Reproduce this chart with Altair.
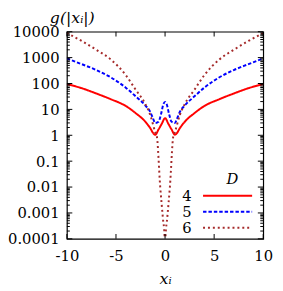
import altair as alt
import pandas as pd

# ---- data ----
D_labels = ["4", "5", "6"]
colors = ["#ff0000", "#0000ff", "#a52a2a"]
dashes = [[1, 0], [3.5, 2], [2, 3]]

x_red = [-10, -8.5, -7, -5.5, -4, -3, -2, -1.5, -1.2, -1.0, -0.67, -0.33, 0,
         0.33, 0.67, 1.0, 1.2, 1.5, 2, 3, 4, 5.5, 7, 8.5, 10]
g_red = [95, 66, 41, 24.5, 13.5, 7.2, 3.3, 1.86, 1.2, 1.05, 1.66, 2.8, 4.6,
         2.8, 1.66, 1.05, 1.2, 1.86, 3.3, 7.2, 13.5, 24.5, 41, 66, 95]

x_blue = [-10, -8.5, -7, -5.5, -4, -3, -2, -1.5, -1.2, -1.0, -0.67, -0.4, -0.17, 0,
          0.17, 0.4, 0.67, 1.0, 1.2, 1.5, 2, 3, 4, 5.5, 7, 8.5, 10]
g_blue = [930, 560, 330, 170, 69, 32, 14, 7.9, 4.2, 2.95, 3.3, 6.8, 15.8, 19.5,
          15.8, 6.8, 3.3, 2.95, 4.2, 7.9, 14, 32, 69, 170, 330, 560, 930]

x_brown = [-10, -8.5, -7, -5.5, -4, -3, -2, -1.5, -1.0, -0.83, -0.5, -0.22, -0.05, 0,
           0.05, 0.22, 0.5, 0.83, 1.0, 1.5, 2, 3, 4, 5.5, 7, 8.5, 10]
g_brown = [8900, 4400, 2000, 830, 210, 58, 15.8, 6.0, 1.32, 0.87, 0.011, 0.00063, 0.000126, 0.00001,
           0.000126, 0.00063, 0.011, 0.87, 1.32, 6.0, 15.8, 58, 210, 830, 2000, 4400, 8900]

x_ticks = [-10, -5, 0, 5, 10]
y_major = [0.0001, 0.001, 0.01, 0.1, 1, 10, 100, 1000, 10000]
y_minor = [k * m for m in [0.0001, 0.001, 0.01, 0.1, 1, 10, 100, 1000] for k in range(2, 10)]

FONT = "DejaVu Serif"
W, H = 200, 211

rows = []
for lab, xs, gs in [("4", x_red, g_red), ("5", x_blue, g_blue), ("6", x_brown, g_brown)]:
    for a, b in zip(xs, gs):
        rows.append({"x": a, "g": b, "D": lab})
df = pd.DataFrame(rows)

xscale = alt.Scale(domain=[-10, 10], nice=False, zero=False)
yscale = alt.Scale(type="log", domain=[0.0001, 10000], nice=False)
color_enc = alt.Color("D:N", scale=alt.Scale(domain=D_labels, range=colors), legend=None)
dash_enc = alt.StrokeDash("D:N", scale=alt.Scale(domain=D_labels, range=dashes), legend=None)

x_axis = alt.Axis(values=x_ticks, ticks=False, domain=False, grid=False,
                  labelExpr="datum.value + ''", labelFont=FONT, labelFontSize=15,
                  labelColor="black", labelPadding=10, labelFlush=False, labelOverlap=False,
                  title="xᵢ", titleFont=FONT, titleFontSize=16, titleFontStyle="italic",
                  titleFontWeight="normal", titleColor="black",
                  titleBaseline="alphabetic", titleY=46)
y_axis = alt.Axis(values=y_major, ticks=False, domain=False, grid=False,
                  labelExpr="datum.value + ''", labelFont=FONT, labelFontSize=15,
                  labelColor="black", labelPadding=8, labelFlush=False, labelOverlap=False,
                  title="g(|xᵢ|)", titleFont=FONT, titleFontSize=16, titleFontStyle="italic",
                  titleFontWeight="normal", titleColor="black", titleAngle=0,
                  titleAlign="center", titleBaseline="alphabetic", titleX=5, titleY=-9)

lines = alt.Chart(df).mark_line(interpolate="monotone", clip=True, strokeWidth=2).encode(
    x=alt.X("x:Q", scale=xscale, axis=x_axis),
    y=alt.Y("g:Q", scale=yscale, axis=y_axis),
    color=color_enc,
    strokeDash=dash_enc,
    detail="D:N",
)

ymaj = pd.DataFrame({"x": [0] * len(y_major), "g": y_major})
ymin = pd.DataFrame({"x": [0] * len(y_minor), "g": y_minor})
xt = pd.DataFrame({"x": x_ticks, "g": [1] * len(x_ticks)})

def yticks(data, cx, size):
    return alt.Chart(data).mark_tick(orient="horizontal", color="black", thickness=1,
                                     size=size, opacity=1).encode(
        y=alt.Y("g:Q", scale=yscale, axis=y_axis), x=alt.value(cx))

def xticks(cy, size):
    return alt.Chart(xt).mark_tick(orient="vertical", color="black", thickness=1,
                                   size=size, opacity=1).encode(
        x=alt.X("x:Q", scale=xscale, axis=x_axis), y=alt.value(cy))

main = alt.layer(
    lines,
    yticks(ymaj, 2.75, 5.5), yticks(ymin, 1.5, 3),
    yticks(ymaj, W - 2.75, 5.5), yticks(ymin, W - 1.5, 3),
    xticks(H - 2.5, 5), xticks(2.5, 5),
)

leg_df = pd.DataFrame({"D": D_labels})
leg_y = alt.Y("D:N", scale=alt.Scale(type="point", domain=D_labels, range=[167.2, 199.8], padding=0), axis=None)

leg_lines = alt.Chart(leg_df).mark_rule(strokeWidth=2).encode(
    x=alt.value(138.7), x2=alt.value(188.7), y=leg_y, color=color_enc, strokeDash=dash_enc)
leg_text = alt.Chart(leg_df).mark_text(align="right", baseline="middle", font=FONT, fontSize=15,
                                       color="black").encode(
    x=alt.value(127), y=leg_y, text="D:N")
leg_title = alt.Chart(pd.DataFrame({"t": ["D"]})).mark_text(
    align="center", baseline="middle", font=FONT, fontSize=15, fontStyle="italic", color="black").encode(
    x=alt.value(168.7), y=alt.value(150.5), text="t:N")

chart = alt.layer(main, leg_lines, leg_text, leg_title).resolve_scale(y="independent").properties(
    width=W, height=H,
    autosize=alt.AutoSizeParams(type="none"),
    padding={"left": 60, "top": 21.5, "right": 12, "bottom": 51},
).configure_view(stroke="black", strokeWidth=1.2)

chart.save("out.html", embed_options={"renderer": "svg", "actions": False})
